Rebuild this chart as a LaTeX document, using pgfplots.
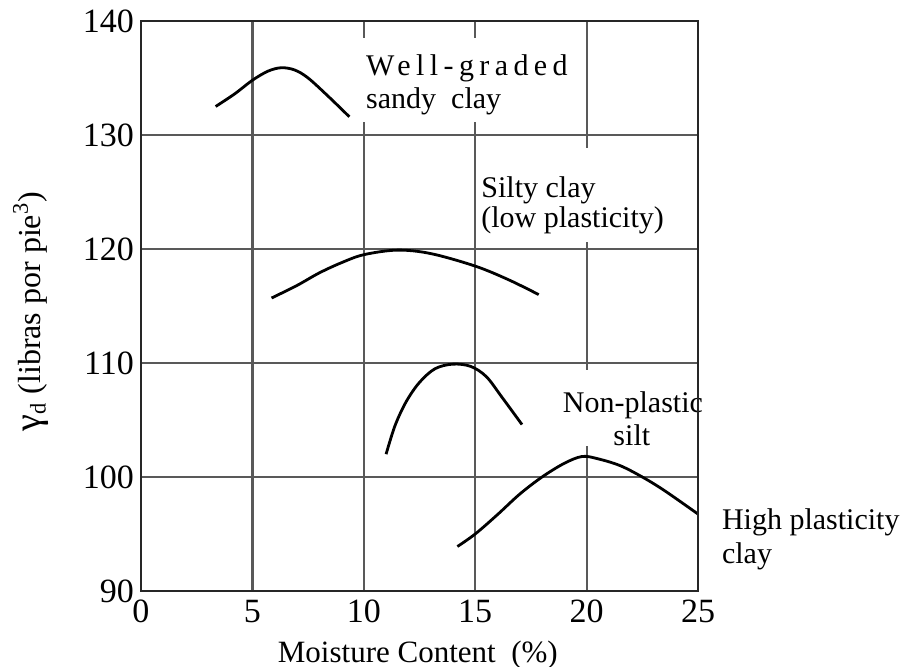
\documentclass[border=0pt]{standalone}
\usepackage{fontspec}
\setmainfont{Liberation Serif}
\usepackage{pgfplots}
\pgfplotsset{compat=1.18}
\newcommand{\lblfont}{\fontsize{15}{16}\selectfont}
\begin{document}
\begin{tikzpicture}
\begin{axis}[
  scale only axis, width=278.5pt, height=285pt,
  xmin=0, xmax=25, ymin=90, ymax=140,
  xtick={0,5,10,15,20,25}, ytick={90,100,110,120,130,140},
  grid=major, major grid style={black!65, line width=1.1pt},
  axis line style={black!85, line width=1.3pt},
  major tick length=0pt,
  tick label style={font=\fontsize{17}{18}\selectfont},
  xticklabel style={yshift=-1pt},
  /pgf/number format/assume math mode=true,
  xlabel={Moisture Content\ \ (\%)},
  ylabel={{\fontsize{19}{19}\selectfont γ}\textsubscript{d}\ (libras por pie\textsuperscript{3})},
  xlabel style={font=\fontsize{15.5}{16}\selectfont, at={(axis description cs:0.497,-0.112)}, anchor=center},
  ylabel style={font=\fontsize{16}{16}\selectfont, at={(axis description cs:-0.198,0.49)}, anchor=center},
  clip=false,
  curve/.style={black, line width=1.4pt, smooth, tension=0.55, mark=none},
]
% Well-graded sandy clay
\addplot[curve] coordinates {(3.35,132.5) (4.2,133.6) (5.0,134.8) (5.7,135.6) (6.3,135.9) (6.9,135.7) (7.5,135.0) (8.4,133.4) (9.35,131.6)};
% Silty clay
\addplot[curve] coordinates {(5.86,115.7) (7,116.8) (8,117.9) (9,118.8) (10,119.5) (11.5,119.9) (13,119.6) (15,118.5) (16.5,117.3) (17.85,116.0)};
% Non-plastic silt
\addplot[curve] coordinates {(11.0,102.0) (11.4,104.5) (11.9,106.6) (12.5,108.3) (13.2,109.5) (14.0,109.9) (14.8,109.7) (15.5,108.8) (16.2,107.0) (17.1,104.6)};
% High plasticity clay
\addplot[curve] coordinates {(14.2,93.9) (15,95.0) (16,96.7) (17,98.5) (18,100.0) (19,101.2) (19.8,101.8) (20.5,101.6) (21.5,101.0) (22.5,100.0) (23.5,98.8) (25,96.75)};

% white backgrounds of labels
\fill[white] (axis cs:9.82,138.5) rectangle (axis cs:19.35,131.1);
\fill[white] (axis cs:15.13,128.86) rectangle (axis cs:23.66,120.6);
\fill[white] (axis cs:18.7,109.4) rectangle (axis cs:25,102.7);

\node[anchor=base west, inner sep=0pt, font=\lblfont] at (axis cs:10.09,135.2) {\addfontfeature{LetterSpace=18}Well-graded};
\node[anchor=base west, inner sep=0pt, font=\lblfont] at (axis cs:10.09,132.3) {sandy\ \ clay};
\node[anchor=base west, inner sep=0pt, font=\lblfont] at (axis cs:15.26,124.5) {Silty clay};
\node[anchor=base west, inner sep=0pt, font=\lblfont] at (axis cs:15.26,121.86) {(low plasticity)};
\node[anchor=base west, inner sep=0pt, font=\lblfont] at (axis cs:18.92,105.7) {Non-plastic};
\node[anchor=base, inner sep=0pt, font=\lblfont] at (axis cs:22.03,102.8) {silt};
\node[anchor=base west, inner sep=0pt, font=\lblfont] at (axis cs:26.06,95.4) {High\ plasticity};
\node[anchor=base west, inner sep=0pt, font=\lblfont] at (axis cs:26.06,92.4) {clay};

\draw[black!85, line width=1.3pt] (rel axis cs:1,0) -- (rel axis cs:1,1);
\end{axis}
\pgfresetboundingbox
\path ([shift={(-70.5pt,-38pt)}]current axis.south west) rectangle ([shift={(384pt,295.5pt)}]current axis.south west);
\end{tikzpicture}
\end{document}
